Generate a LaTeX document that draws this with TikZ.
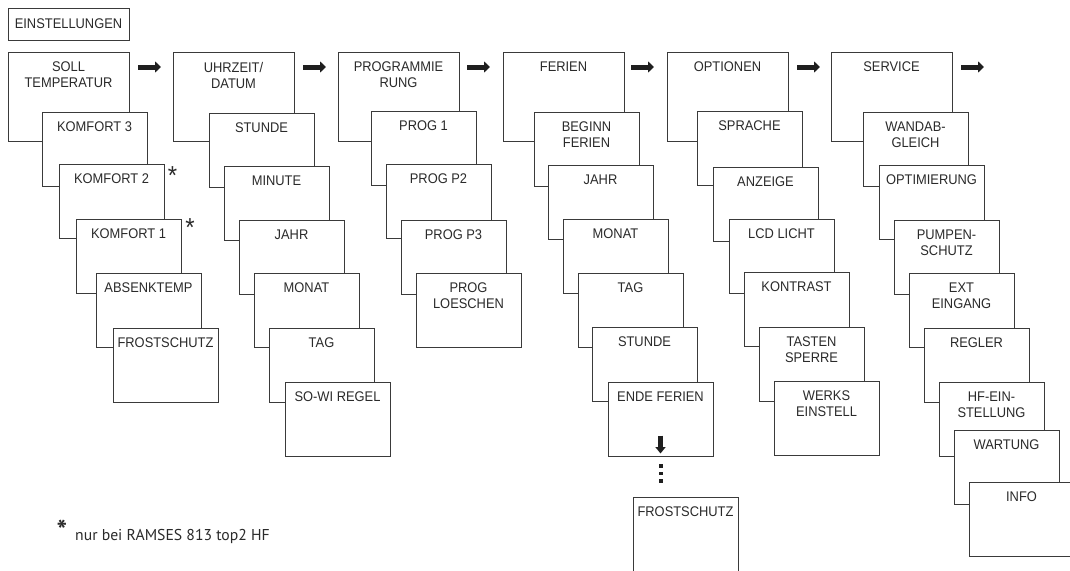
\documentclass[tikz,border=0pt]{standalone}
\usepackage{fontspec}
\setmainfont{Liberation Sans}[FakeStretch=0.92]
\newfontfamily\footfont{PT Sans}
\usetikzlibrary{arrows.meta}
\definecolor{ln}{HTML}{3A3A3A}
\definecolor{tx}{HTML}{2A2A2A}
\tikzset{
  box/.style={draw=ln, line width=0.95pt, fill=white, anchor=north west, minimum width=105pt, minimum height=74.5pt, inner sep=0pt, outer sep=0pt},
  topbox/.style={box, minimum width=121pt, minimum height=89pt},
  smallbox/.style={box, minimum width=121pt, minimum height=32pt},
  lbl/.style={anchor=north, inner sep=0pt, align=center, text=tx, font=\fontsize{14}{16}\selectfont},
  bigarrow/.style={draw=black!88, line width=5pt, -{Triangle[length=6pt,width=11pt]}},
  downarrow/.style={draw=black!88, line width=4.2pt, -{Triangle[length=6.5pt,width=10pt]}},
  dotmark/.style={fill=black!88, inner sep=0pt, minimum size=3.4pt},
  starmark/.style={anchor=north, inner sep=0pt, text=tx, font=\fontsize{26}{26}\selectfont},
}
\newcommand\bxx[4][box]{\node[#1] (#2) at (#3) {}; \node[lbl] (#2-t) at ([yshift=-10pt]#2.north) {#4};}
\begin{document}
\begin{tikzpicture}[x=1pt, y=-1pt]
\clip (0,0) rectangle (1070,570);
\useasboundingbox (0,0) rectangle (1070,570);
\fill[white] (0,0) rectangle (1070,570);

% title
\node[smallbox] (einst) at (8,8) {};
\node[lbl, anchor=center] (einst-t) at (einst.center) {EINSTELLUNGEN};

% column 1
\bxx[topbox]{soll}{8,52}{SOLL\\TEMPERATUR}
\bxx{k3}{42,112}{KOMFORT 3}
\bxx{k2}{59,164}{KOMFORT 2}
\bxx{k1}{76,219}{KOMFORT 1}
\bxx{abs}{96,273}{ABSENKTEMP}
\bxx{frost}{113,328}{FROSTSCHUTZ}
\node[starmark] (s2) at (172.5,166) {*};
\node[starmark] (s1) at (190,218) {*};

% column 2
\bxx[topbox]{uhr}{173,52}{UHRZEIT/\\DATUM}
\bxx{stu}{209,113}{STUNDE}
\bxx{min}{224,166}{MINUTE}
\bxx{jahr}{239,220}{JAHR}
\bxx{mon}{254,273}{MONAT}
\bxx{tag}{269,328}{TAG}
\bxx{sowi}{285,382}{SO-WI REGEL}

% column 3
\bxx[topbox]{prog}{338,52}{PROGRAMMIE\\RUNG}
\bxx{p1}{371,111}{PROG 1}
\bxx{p2}{386,164}{PROG P2}
\bxx{p3}{401,220}{PROG P3}
\bxx{pl}{416,273}{PROG\\LOESCHEN}

% column 4
\bxx[topbox]{fer}{503,52}{FERIEN}
\bxx{beg}{534,112}{BEGINN\\FERIEN}
\bxx{fjahr}{548,165}{JAHR}
\bxx{fmon}{563,219}{MONAT}
\bxx{ftag}{578,273}{TAG}
\bxx{fstu}{592,327}{STUNDE}
\bxx{ende}{608,382}{ENDE FERIEN}
\draw[downarrow] ([yshift=21pt]ende.south) -- ([yshift=3pt]ende.south);
\node[dotmark] (d1) at (661,466) {};
\node[dotmark] (d2) at (661,473.5) {};
\node[dotmark] (d3) at (661,481) {};
\bxx[box, minimum height=90pt]{frost2}{633,497}{FROSTSCHUTZ}

% column 5
\bxx[topbox]{opt}{667,52}{OPTIONEN}
\bxx{spr}{697,111}{SPRACHE}
\bxx{anz}{713,167}{ANZEIGE}
\bxx{lcd}{729,219}{LCD LICHT}
\bxx{kon}{744,272}{KONTRAST}
\bxx{tas}{759,327}{TASTEN\\SPERRE}
\bxx{wer}{774,381}{WERKS\\EINSTELL}

% column 6
\bxx[topbox]{ser}{831,52}{SERVICE}
\bxx{wand}{863,112}{WANDAB-\\GLEICH}
\bxx{optim}{879,165}{OPTIMIERUNG}
\bxx{pump}{894,220}{PUMPEN-\\SCHUTZ}
\bxx{ext}{909,273}{EXT\\EINGANG}
\bxx{reg}{924,328}{REGLER}
\bxx{hf}{939,382}{HF-EIN-\\STELLUNG}
\bxx{wart}{954,430}{WARTUNG}
\bxx{info}{969,482}{INFO}

% arrows between top boxes
\draw[bigarrow] ([xshift=9pt,yshift=-15pt]soll.north east) -- ++(23,0);
\draw[bigarrow] ([xshift=9pt,yshift=-15pt]uhr.north east) -- ++(23,0);
\draw[bigarrow] ([xshift=8pt,yshift=-15pt]prog.north east) -- ++(23,0);
\draw[bigarrow] ([xshift=7pt,yshift=-15pt]fer.north east) -- ++(23,0);
\draw[bigarrow] ([xshift=9pt,yshift=-15pt]opt.north east) -- ++(23,0);
\draw[bigarrow] ([xshift=9pt,yshift=-15pt]ser.north east) -- ++(23,0);

% footnote
\node[anchor=base west, inner sep=0pt, text=tx, font=\footfont\fontsize{15.7}{18}\selectfont] (fn) at (75,540) {nur bei RAMSES 813 top2 HF};
\node[anchor=north, inner sep=0pt, text=tx, font=\footfont\bfseries\fontsize{28}{28}\selectfont] (fnstar) at (62,520) {*};
\end{tikzpicture}
\end{document}
